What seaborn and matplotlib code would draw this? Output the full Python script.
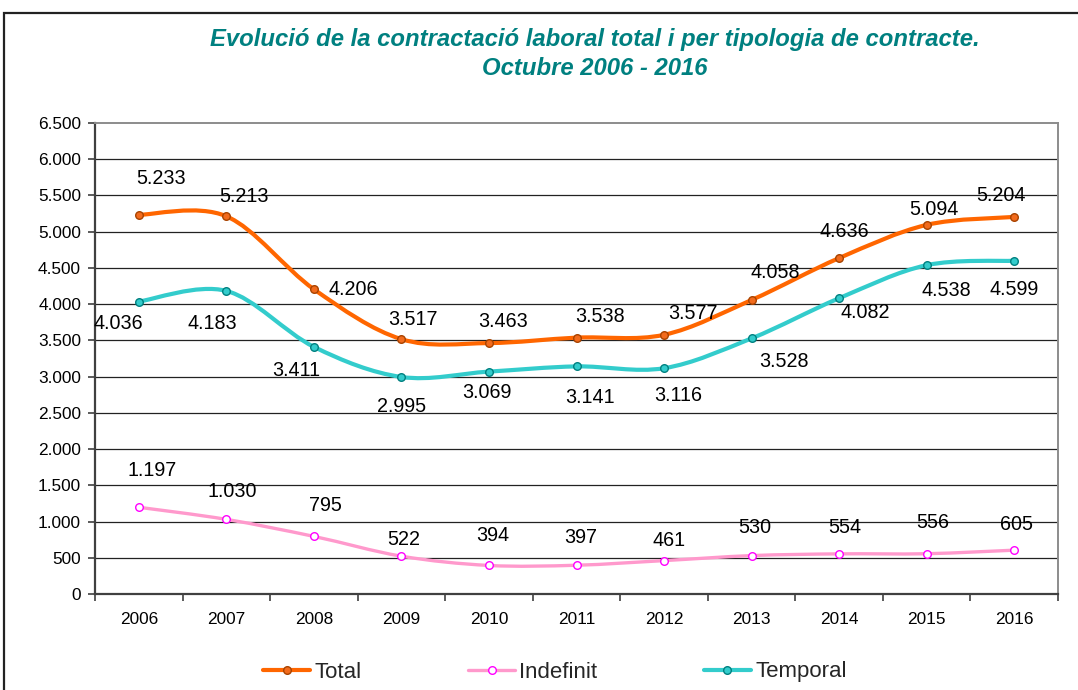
import numpy as np
import pandas as pd
import seaborn as sns
import matplotlib
matplotlib.use("Agg")
import matplotlib.pyplot as plt
from matplotlib.path import Path
from matplotlib.patches import PathPatch, Rectangle
from matplotlib.lines import Line2D
from matplotlib.ticker import FuncFormatter, FixedLocator

# ---------------- data ----------------
years = ["2006", "2007", "2008", "2009", "2010", "2011", "2012", "2013", "2014", "2015", "2016"]
total = [5233, 5213, 4206, 3517, 3463, 3538, 3577, 4058, 4636, 5094, 5204]
indefinit = [1197, 1030, 795, 522, 394, 397, 461, 530, 554, 556, 605]
temporal = [4036, 4183, 3411, 2995, 3069, 3141, 3116, 3528, 4082, 4538, 4599]
series_names = ["Total", "Indefinit", "Temporal"]
title = "Evolució de la contractació laboral total i per tipologia de contracte.\nOctubre 2006 - 2016"

# ---------------- styling ----------------
sns.set_theme(style="white")
plt.rcParams['font.family'] = ['Liberation Sans', 'DejaVu Sans']

line_colors = {"Total": "#FF6600", "Indefinit": "#FF99CC", "Temporal": "#33CCCC"}
mk_face = {"Total": "#F26B1D", "Indefinit": "#FFFFFF", "Temporal": "#33CCCC"}
mk_edge = {"Total": "#A84300", "Indefinit": "#FF00FF", "Temporal": "#008080"}
line_w = {"Total": 3.0, "Indefinit": 2.4, "Temporal": 3.0}

# label offsets in pixels (dx right, dy up)
label_off = {
    "Total": [(22, 36), (18, 20), (39, 0), (12, 20), (14, 22), (24, 21), (29, 21), (24, 27), (5, 27), (7, 15), (-13, 21)],
    "Indefinit": [(13, 37), (6, 28), (12, 31), (2, 17), (4, 30), (4, 28), (5, 20), (3, 28), (6, 26), (6, 31), (2, 26)],
    "Temporal": [(-20, -22), (-14, -33), (-18, -24), (0, -30), (-2, -21), (14, -31), (14, -27), (32, -23), (26, -14), (20, -25), (0, -29)],
}

df = pd.DataFrame({
    "idx": list(range(len(years))) * 3,
    "year": years * 3,
    "value": total + indefinit + temporal,
    "series": ["Total"] * len(years) + ["Indefinit"] * len(years) + ["Temporal"] * len(years),
})

fig = plt.figure(figsize=(10.78, 6.90), dpi=100)
ax = fig.add_axes([95 / 1078, 1 - 594 / 690, (1058 - 95) / 1078, (594 - 123) / 690])

def fmt(v):
    return f"{int(round(v)):,}".replace(",", ".")

def smooth_path(xs, ys):
    pts = np.column_stack([xs, ys]).astype(float)
    n = len(pts)
    verts = [pts[0]]
    codes = [Path.MOVETO]
    for i in range(n - 1):
        p_prev = pts[i - 1] if i > 0 else pts[i]
        p0 = pts[i]
        p1 = pts[i + 1]
        p_next = pts[i + 2] if i + 2 < n else pts[i + 1]
        c1 = p0 + (p1 - p_prev) / 6.0
        c2 = p1 - (p_next - p0) / 6.0
        verts += [c1, c2, p1]
        codes += [Path.CURVE4] * 3
    return Path(verts, codes)

# smoothed lines
for name in series_names:
    sub = df[df.series == name]
    patch = PathPatch(smooth_path(sub.idx.values, sub.value.values), facecolor="none",
                      edgecolor=line_colors[name], lw=line_w[name], zorder=3,
                      capstyle="round", joinstyle="round")
    ax.add_patch(patch)

# markers
for name in series_names:
    sub = df[df.series == name]
    sns.scatterplot(data=sub, x="idx", y="value", ax=ax, s=30, color=mk_face[name],
                    edgecolor=mk_edge[name], linewidth=1.0, zorder=4, legend=False)

# data labels
for name in series_names:
    sub = df[df.series == name].reset_index(drop=True)
    for i, row in sub.iterrows():
        dx, dy = label_off[name][i]
        ax.annotate(fmt(row.value), (row.idx, row.value), xytext=(dx, dy),
                    textcoords="offset pixels", ha="center", va="center",
                    fontsize=14.2, color="black", zorder=5)

# axes
ax.set_xlim(-0.5, len(years) - 0.5)
ax.set_ylim(0, 6500)
ax.set_yticks(np.arange(0, 6501, 500))
ax.yaxis.set_major_formatter(FuncFormatter(lambda v, p: fmt(v)))
ax.xaxis.set_major_locator(FixedLocator(np.arange(-0.5, len(years), 1.0)))
ax.xaxis.set_major_formatter(FuncFormatter(lambda v, p: ""))
ax.xaxis.set_minor_locator(FixedLocator(np.arange(0, len(years))))
ax.set_xticklabels(years, minor=True)
ax.tick_params(axis="x", which="major", direction="out", length=5, width=1.2, color="#404040", bottom=True)
ax.tick_params(axis="x", which="minor", length=0, pad=13, labelsize=12.4, labelcolor="black", bottom=True)
ax.tick_params(axis="y", which="major", direction="out", length=5, width=1.2, color="#404040",
               pad=5, labelsize=12.4, labelcolor="black", left=True)
ax.set_xlabel("")
ax.set_ylabel("")

for y in np.arange(500, 6500, 500):
    ax.axhline(y, color="#222222", lw=0.9, zorder=1)

ax.spines["left"].set_color("#404040")
ax.spines["bottom"].set_color("#404040")
ax.spines["left"].set_linewidth(1.6)
ax.spines["bottom"].set_linewidth(1.6)
ax.spines["top"].set_color("#8C8C8C")
ax.spines["right"].set_color("#8C8C8C")
ax.spines["top"].set_linewidth(1.4)
ax.spines["right"].set_linewidth(1.4)

# title
fig.text(0.552, 1 - 54 / 690, title, ha="center", va="center", fontsize=17.2,
         fontweight="bold", fontstyle="italic", color="#008080", linespacing=1.38,
         multialignment="center")

# legend
handles = [Line2D([0], [0], color=line_colors[n], lw=line_w[n], marker="o", markersize=5.5,
                  markerfacecolor=mk_face[n], markeredgecolor=mk_edge[n], markeredgewidth=1.0)
           for n in series_names]
fig.legend(handles, series_names, loc="center", bbox_to_anchor=(555 / 1078, 1 - 672 / 690),
           ncol=3, frameon=False, fontsize=16, handlelength=2.1, handletextpad=0.2,
           columnspacing=4.8, borderpad=0.2)

# outer frame
fig.patches.append(Rectangle((4 / 1078, -0.05), 1.2, 1 - 13 / 690 + 0.05, transform=fig.transFigure,
                             fill=False, edgecolor="#222222", lw=1.6, zorder=0))

fig.savefig("out.png", dpi=100, facecolor="white")
